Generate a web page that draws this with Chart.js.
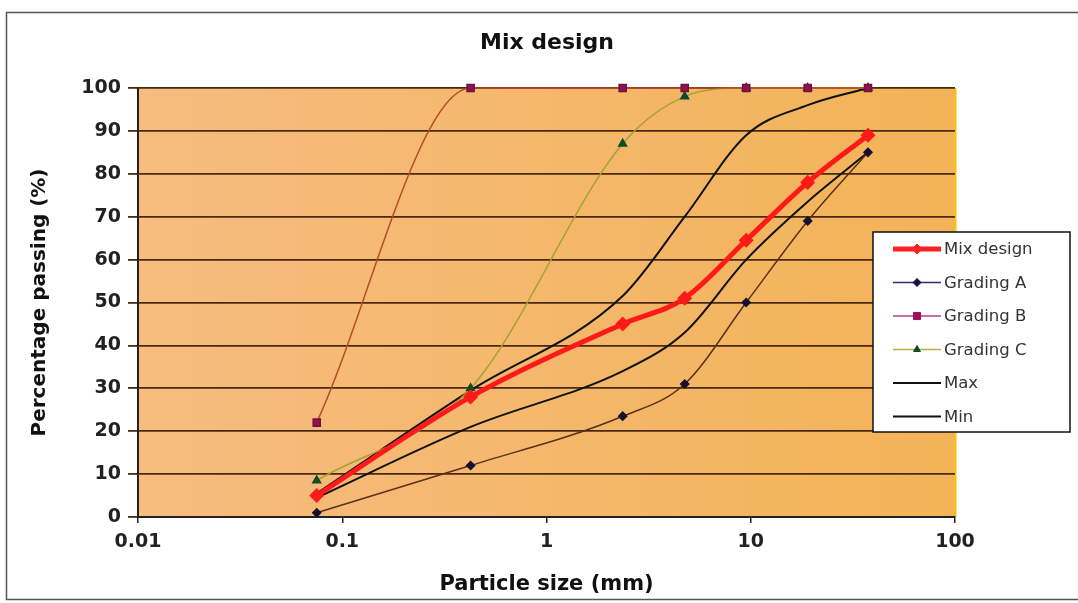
<!DOCTYPE html>
<html><head><meta charset="utf-8">
<script src="https://cdn.jsdelivr.net/npm/chart.js@4/dist/chart.umd.min.js"></script>
<style>html,body{margin:0;padding:0;background:#fff;overflow:hidden}#wrap{width:1078px;height:603px;position:relative}</style>
</head><body><div id="wrap"><canvas id="c" width="1078" height="603"></canvas></div>
<script>
const sieveSizes = [0.075, 0.425, 2.36, 4.75, 9.5, 19, 37.5];
const mixDesign  = [5, 28, 45, 51, 64.5, 78, 89];
const gradingA   = [1, 12, 23.5, 31, 50, 69, 85];
const gradingB   = [22, 100, 100, 100, 100, 100, 100];
const gradingC   = [8.5, 30, 87, 98, 100, 100, 100];
const maxLimit   = [5.5, 29.5, 51.5, 70, 89, 96, 100];
const minLimit   = [4.5, 21, 34, 43, 60, 73.5, 85];
const seriesNames = ['Mix design', 'Grading A', 'Grading B', 'Grading C', 'Max', 'Min'];
const xTickValues = [0.01, 0.1, 1, 10, 100];
const xTickLabels = ['0.01', '0.1', '1', '10', '100'];
const yTickValues = [0, 10, 20, 30, 40, 50, 60, 70, 80, 90, 100];

const toPts = arr => sieveSizes.map((x, i) => ({x: x, y: arr[i]}));
const FONT = '"DejaVu Sans", "Liberation Sans", Arial, sans-serif';

const legendStyles = [
  {line: '#ff2020', width: 5, style: 'rectRot', fill: '#ff2020', stroke: '#ff2020', r: 5},
  {line: '#3a2a70', width: 1.5, style: 'rectRot', fill: '#1a1040', stroke: '#1a1040', r: 4},
  {line: '#b04080', width: 1.5, style: 'rect', fill: '#a0105a', stroke: '#a0105a', r: 5},
  {line: '#b8b040', width: 1.5, style: 'triangle', fill: '#104a20', stroke: '#104a20', r: 4},
  {line: '#111', width: 2, style: false},
  {line: '#111', width: 2, style: false}
];

const decorPlugin = {
  id: 'decor',
  beforeDraw(chart) {
    const {ctx, chartArea: a} = chart;
    ctx.save();
    const g = ctx.createLinearGradient(a.left, 0, a.right, 0);
    g.addColorStop(0, '#f6bc80');
    g.addColorStop(1, '#f3b357');
    ctx.fillStyle = g;
    ctx.fillRect(a.left, a.top, a.right - a.left, a.bottom - a.top);
    ctx.strokeStyle = '#f2c020';
    ctx.lineWidth = 3;
    ctx.beginPath(); ctx.moveTo(a.right, a.top); ctx.lineTo(a.right, a.bottom); ctx.stroke();
    ctx.restore();
  },
  afterDraw(chart) {
    const {ctx} = chart;
    ctx.save();
    ctx.strokeStyle = '#555';
    ctx.lineWidth = 1.5;
    ctx.strokeRect(6.5, 12.5, 1090, 587);
    ctx.fillStyle = '#111';
    ctx.font = 'bold 22px ' + FONT;
    ctx.textAlign = 'center';
    ctx.textBaseline = 'middle';
    ctx.fillText('Mix design', 547, 43);
    const bx = 873, by = 232, bw = 197, bh = 200;
    ctx.fillStyle = '#fff';
    ctx.fillRect(bx, by, bw, bh);
    ctx.strokeStyle = '#111';
    ctx.lineWidth = 1.5;
    ctx.strokeRect(bx, by, bw, bh);
    ctx.font = '16.5px ' + FONT;
    ctx.textAlign = 'left';
    chart.data.datasets.forEach((ds, i) => {
      const s = legendStyles[i];
      const y = 249 + i * 33.5;
      ctx.strokeStyle = s.line;
      ctx.lineWidth = s.width;
      ctx.beginPath(); ctx.moveTo(893, y); ctx.lineTo(941, y); ctx.stroke();
      if (s.style) {
        ctx.fillStyle = s.fill; ctx.strokeStyle = s.stroke; ctx.lineWidth = 1;
        Chart.helpers.drawPoint(ctx, {pointStyle: s.style, radius: s.r, rotation: 0, borderWidth: 1}, 917, y);
      }
      ctx.fillStyle = '#333';
      ctx.fillText(ds.label, 944, y + 1);
    });
    ctx.restore();
  }
};

new Chart(document.getElementById('c'), {
  type: 'line',
  data: {
    datasets: [
      {label: seriesNames[0], data: toPts(mixDesign), clip: false, borderColor: '#ff1a1a', borderWidth: 5, pointStyle: 'rectRot', pointRadius: 4, pointBackgroundColor: '#ff1a1a', pointBorderColor: '#ff1a1a'},
      {label: seriesNames[1], data: toPts(gradingA), clip: false, borderColor: '#5a3018', borderWidth: 1.5, pointStyle: 'rectRot', pointRadius: 4, pointBackgroundColor: '#151030', pointBorderColor: '#151030'},
      {label: seriesNames[2], data: toPts(gradingB), clip: false, borderColor: '#b84a28', borderWidth: 1.5, pointStyle: 'rect', pointRadius: 5, pointBackgroundColor: '#901050', pointBorderColor: '#701040'},
      {label: seriesNames[3], data: toPts(gradingC), clip: false, borderColor: '#a8a030', borderWidth: 1.5, pointStyle: 'triangle', pointRadius: 4.5, pointBackgroundColor: '#104a28', pointBorderColor: '#104a28'},
      {label: seriesNames[4], data: toPts(maxLimit), clip: false, borderColor: '#111', borderWidth: 2, pointRadius: 0},
      {label: seriesNames[5], data: toPts(minLimit), clip: false, borderColor: '#111', borderWidth: 2, pointRadius: 0}
    ]
  },
  options: {
    responsive: false,
    devicePixelRatio: 1,
    animation: false,
    events: [],
    elements: {line: {cubicInterpolationMode: 'monotone'}},
    layout: {padding: {left: 8, top: 88, right: 123, bottom: 4}},
    plugins: {legend: {display: false}, title: {display: false}, tooltip: {enabled: false}},
    scales: {
      x: {
        type: 'logarithmic', min: 0.01, max: 100,
        afterBuildTicks: s => { s.ticks = xTickValues.map(v => ({value: v})); },
        afterFit: s => { s.height = 82; },
        ticks: {color: '#222', font: {size: 19, weight: 'bold', family: FONT}, padding: 8, maxRotation: 0, autoSkip: false,
          callback: (v) => { const i = xTickValues.indexOf(v); return i >= 0 ? xTickLabels[i] : ''; }},
        grid: {drawOnChartArea: false, drawTicks: true, tickLength: 6, color: '#222', lineWidth: 1.5},
        border: {display: true, color: '#222', width: 2},
        title: {display: true, text: 'Particle size (mm)', color: '#111', font: {size: 21, weight: 'bold', family: FONT}, padding: {top: 4, bottom: 2}}
      },
      y: {
        min: 0, max: 100,
        afterBuildTicks: s => { s.ticks = yTickValues.map(v => ({value: v})); },
        afterFit: s => { s.width = 130; },
        ticks: {color: '#222', font: {size: 19, weight: 'bold', family: FONT}, padding: 7},
        grid: {color: '#4a2a12', lineWidth: 1.8, drawTicks: true, tickLength: 10},
        border: {display: true, color: '#222', width: 2},
        title: {display: true, text: 'Percentage passing (%)', color: '#111', font: {size: 20, weight: 'bold', family: FONT}, padding: {top: 20, bottom: 0}}
      }
    }
  },
  plugins: [decorPlugin]
});
</script></body></html>
